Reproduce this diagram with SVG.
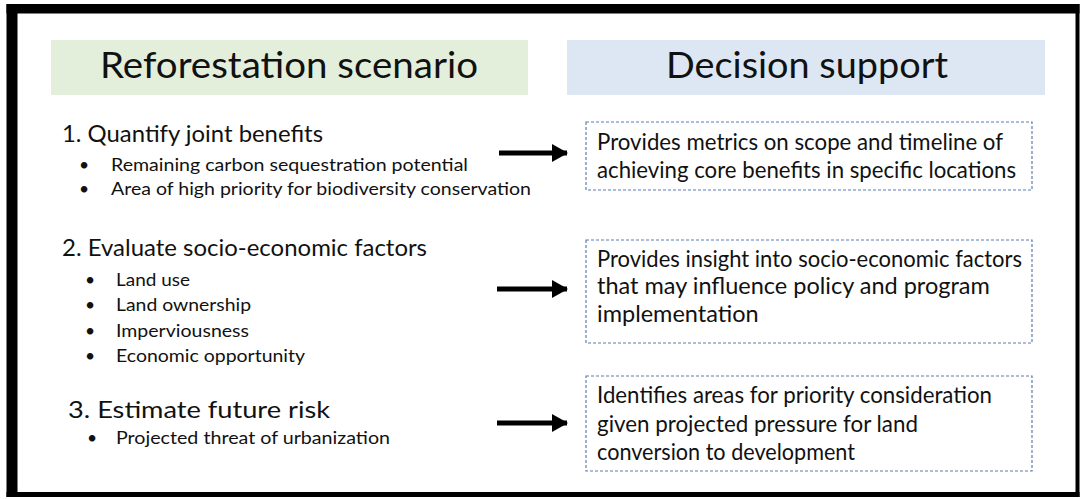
<svg xmlns="http://www.w3.org/2000/svg" width="1080" height="499" viewBox="0 0 1080 499">
  <style>
    text { font-family: Lato, "Open Sans", "Liberation Sans", sans-serif; fill: #111111; }
    .head { font-size: 36px; }
    .title { font-size: 24px; }
    .item { font-size: 17.5px; }
    .note { font-size: 23.5px; }
    .box { fill: #ffffff; stroke: #5d7db2; stroke-width: 1.2; stroke-dasharray: 3 2; }
    .arrow { stroke: #000; stroke-width: 5; fill: none; }
  </style>
  <defs>
    <marker id="head" markerUnits="userSpaceOnUse" markerWidth="16" markerHeight="18" refX="15" refY="9" orient="auto">
      <path d="M0,0 L16,9 L0,18 Z" fill="#000"/>
    </marker>
  </defs>

  <!-- page and frame -->
  <rect x="0" y="0" width="1080" height="499" fill="#ffffff"/>
  <g id="frame" fill="#000">
    <rect x="6.5" y="4" width="1073" height="9.5"/>
    <rect x="6.5" y="4" width="11" height="493"/>
    <rect x="1075.5" y="4" width="4" height="493"/>
    <rect x="6.5" y="492" width="1073" height="5"/>
  </g>

  <!-- column headers -->
  <g id="header-scenario">
    <rect x="51" y="40" width="477" height="55" fill="#e3efdb"/>
    <text class="head" x="100" y="78" textLength="378" lengthAdjust="spacingAndGlyphs">Reforestation scenario</text>
  </g>
  <g id="header-support">
    <rect x="567" y="40" width="478" height="55" fill="#dce7f3"/>
    <text class="head" x="666" y="78" textLength="282" lengthAdjust="spacingAndGlyphs">Decision support</text>
  </g>

  <!-- step 1 -->
  <g id="step-benefits">
    <text class="title" x="62" y="142" textLength="261" lengthAdjust="spacingAndGlyphs">1. Quantify joint benefits</text>
    <text class="item" x="79" y="171">•</text>
    <text class="item" x="111" y="171" textLength="357" lengthAdjust="spacingAndGlyphs">Remaining carbon sequestration potential</text>
    <text class="item" x="79" y="195">•</text>
    <text class="item" x="111" y="195" textLength="420" lengthAdjust="spacingAndGlyphs">Area of high priority for biodiversity conservation</text>
  </g>

  <!-- step 2 -->
  <g id="step-socioeconomic">
    <text class="title" x="62" y="256" textLength="365" lengthAdjust="spacingAndGlyphs">2. Evaluate socio-economic factors</text>
    <text class="item" x="85" y="286">•</text>
    <text class="item" x="116" y="286" textLength="74" lengthAdjust="spacingAndGlyphs">Land use</text>
    <text class="item" x="85" y="311">•</text>
    <text class="item" x="116" y="311" textLength="135" lengthAdjust="spacingAndGlyphs">Land ownership</text>
    <text class="item" x="85" y="337">•</text>
    <text class="item" x="116" y="337" textLength="133" lengthAdjust="spacingAndGlyphs">Imperviousness</text>
    <text class="item" x="85" y="362">•</text>
    <text class="item" x="116" y="362" textLength="189" lengthAdjust="spacingAndGlyphs">Economic opportunity</text>
  </g>

  <!-- step 3 -->
  <g id="step-risk">
    <text class="title" x="68" y="418" textLength="262" lengthAdjust="spacingAndGlyphs">3. Estimate future risk</text>
    <text class="item" x="87" y="444">•</text>
    <text class="item" x="116" y="444" textLength="274" lengthAdjust="spacingAndGlyphs">Projected threat of urbanization</text>
  </g>

  <!-- decision support outcomes -->
  <g id="support-metrics">
    <rect class="box" x="586" y="122" width="446" height="68"/>
    <text class="note" x="597" y="150" textLength="406" lengthAdjust="spacingAndGlyphs">Provides metrics on scope and timeline of</text>
    <text class="note" x="597" y="178" textLength="419" lengthAdjust="spacingAndGlyphs">achieving core benefits in specific locations</text>
  </g>
  <g id="support-insight">
    <rect class="box" x="586" y="240" width="446" height="103"/>
    <text class="note" x="597" y="267" textLength="425" lengthAdjust="spacingAndGlyphs">Provides insight into socio-economic factors</text>
    <text class="note" x="597" y="294">that may influence policy and program</text>
    <text class="note" x="597" y="322">implementation</text>
  </g>
  <g id="support-priority">
    <rect class="box" x="586" y="376" width="446" height="95"/>
    <text class="note" x="597" y="403" textLength="395" lengthAdjust="spacingAndGlyphs">Identifies areas for priority consideration</text>
    <text class="note" x="597" y="432" textLength="321" lengthAdjust="spacingAndGlyphs">given projected pressure for land</text>
    <text class="note" x="597" y="460" textLength="258" lengthAdjust="spacingAndGlyphs">conversion to development</text>
  </g>

  <!-- connectors -->
  <g id="connectors">
    <line class="arrow" x1="499" y1="153" x2="567" y2="153" marker-end="url(#head)"/>
    <line class="arrow" x1="497" y1="289" x2="567" y2="289" marker-end="url(#head)"/>
    <line class="arrow" x1="497" y1="423" x2="567" y2="423" marker-end="url(#head)"/>
  </g>
</svg>
